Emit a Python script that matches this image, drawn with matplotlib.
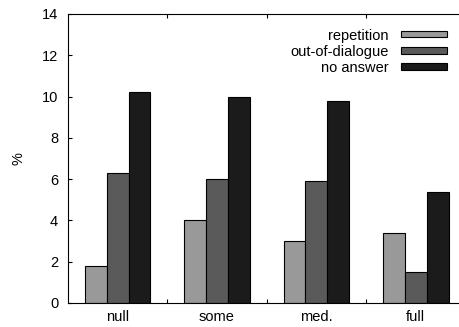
import numpy as np
import matplotlib.pyplot as plt
from matplotlib.patches import Patch

plt.rcParams['font.family'] = ['Liberation Sans', 'DejaVu Sans']

categories = ['null', 'some', 'med.', 'full']
series = ['repetition', 'out-of-dialogue', 'no answer']
repetition = [1.8, 4.0, 3.0, 3.4]
out_of_dialogue = [6.3, 6.0, 5.9, 1.5]
no_answer = [10.2, 10.0, 9.8, 5.4]
colors = ['#999999', '#5a5a5a', '#1b1b1b']

fig = plt.figure(figsize=(4.59, 3.27), dpi=100)
ax = fig.add_axes([0.148, 0.0734, 0.866, 0.8838])

x = np.arange(len(categories))
width = 0.22
for i, vals in enumerate([repetition, out_of_dialogue, no_answer]):
    ax.bar(x + (i - 1) * width, vals, width, color=colors[i],
           edgecolor='black', linewidth=0.8)

fs = 10.5
ax.set_xlim(-0.5, 3.5)
ax.set_ylim(0, 14)
ax.set_yticks(range(0, 15, 2))
ax.set_xticks(x)
ax.set_xticklabels(categories)
ax.set_xticks(x[:-1] + 0.5, minor=True)
ax.tick_params(axis='x', which='major', length=0, pad=5, labelsize=fs)
ax.tick_params(axis='x', which='minor', direction='in', length=3,
               top=True, bottom=True, width=0.8)
ax.tick_params(axis='y', direction='in', length=3, width=0.8,
               labelsize=fs, pad=7)
ax.spines['right'].set_visible(False)
for s in ['left', 'top', 'bottom']:
    ax.spines[s].set_linewidth(0.8)
ax.set_ylabel('%', fontsize=fs, labelpad=12)

handles = [Patch(facecolor=c, edgecolor='black', linewidth=0.8) for c in colors]
ax.legend(handles, series, loc='upper right', bbox_to_anchor=(0.98, 0.985),
          frameon=False, markerfirst=False, fontsize=fs,
          handlelength=3.2, handleheight=0.3, handletextpad=0.8,
          labelspacing=0.15, borderpad=0.2)

fig.savefig('out.png', dpi=100)
